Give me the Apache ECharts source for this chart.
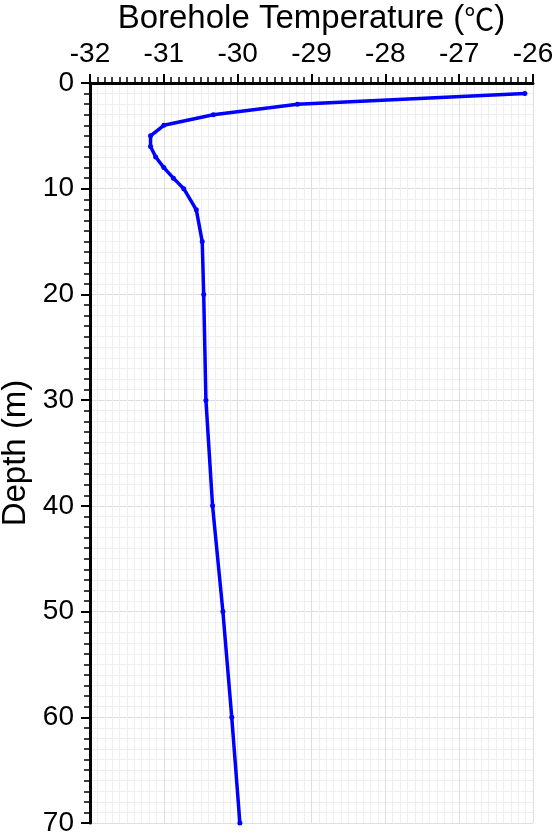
<!DOCTYPE html>
<html>
<head>
  <meta charset="UTF-8">
  <title>Borehole temperature profile</title>
  <style>
    html, body { margin: 0; padding: 0; background: #fff; }
    #chart { width: 555px; height: 840px; }
  </style>
  <script src="https://cdn.jsdelivr.net/npm/echarts@6/dist/echarts.min.js"></script>
</head>
<body>
<div id="chart"></div>
<script>
// depth in metres, temperature
var depths = [1, 2, 3, 4, 5, 6, 7, 8, 9, 10, 12, 15, 20, 30, 40, 50, 60, 70];
var temps  = [-26.11, -29.19, -30.33, -31.00, -31.18, -31.18, -31.11, -31.00, -30.87,
              -30.73, -30.56, -30.48, -30.46, -30.43, -30.34, -30.20, -30.08, -29.97];

var chart = echarts.init(document.getElementById('chart'));

var points = depths.map(function (d, i) { return [temps[i], d]; });

var font = 'Liberation Sans, Arial, sans-serif';

chart.setOption({
  animation: false,
  backgroundColor: '#fff',
  grid: {
    left: 90,
    right: 22,
    top: 83,
    bottom: 17,
    outerBoundsMode: 'none'
  },
  xAxis: {
    type: 'value',
    position: 'top',
    min: -32,
    max: -26,
    interval: 1,
    name: '{a|Borehole Temperature (}{b|\u2103}{a|)}',
    nameLocation: 'middle',
    nameGap: 48,
    nameTextStyle: {
      rich: {
        a: { fontSize: 33, color: '#000', fontFamily: font },
        b: { fontSize: 30, color: '#000', fontFamily: 'Noto Sans CJK SC' }
      }
    },
    axisLine: { show: true, onZero: false, lineStyle: { color: '#000', width: 3 } },
    axisTick: { show: true, inside: false, length: 9, lineStyle: { color: '#000', width: 2 } },
    minorTick: { show: true, splitNumber: 10, length: 6, lineStyle: { color: '#000', width: 1.5 } },
    axisLabel: { fontSize: 28, color: '#000', margin: 15, fontFamily: font },
    splitLine: { show: true, lineStyle: { color: '#dedede', width: 1 } },
    minorSplitLine: { show: true, lineStyle: { color: '#efefef', width: 1 } }
  },
  yAxis: {
    type: 'value',
    inverse: true,
    min: 0,
    max: 70,
    interval: 10,
    name: 'Depth (m)',
    nameLocation: 'middle',
    nameGap: 51,
    nameTextStyle: { fontSize: 33, color: '#000', fontFamily: font },
    axisLine: { show: true, onZero: false, lineStyle: { color: '#000', width: 3 } },
    axisTick: { show: true, inside: false, length: 9, lineStyle: { color: '#000', width: 2 } },
    minorTick: { show: true, splitNumber: 10, length: 6, lineStyle: { color: '#000', width: 1.5 } },
    axisLabel: { fontSize: 28, color: '#000', margin: 16, fontFamily: font },
    splitLine: { show: true, lineStyle: { color: '#dedede', width: 1 } },
    minorSplitLine: { show: true, lineStyle: { color: '#efefef', width: 1 } }
  },
  series: [
    {
      type: 'line',
      data: points,
      symbol: 'circle',
      symbolSize: 5,
      itemStyle: { color: '#0000ff' },
      lineStyle: { color: '#0000ff', width: 3.5 }
    }
  ]
});
</script>
</body>
</html>
